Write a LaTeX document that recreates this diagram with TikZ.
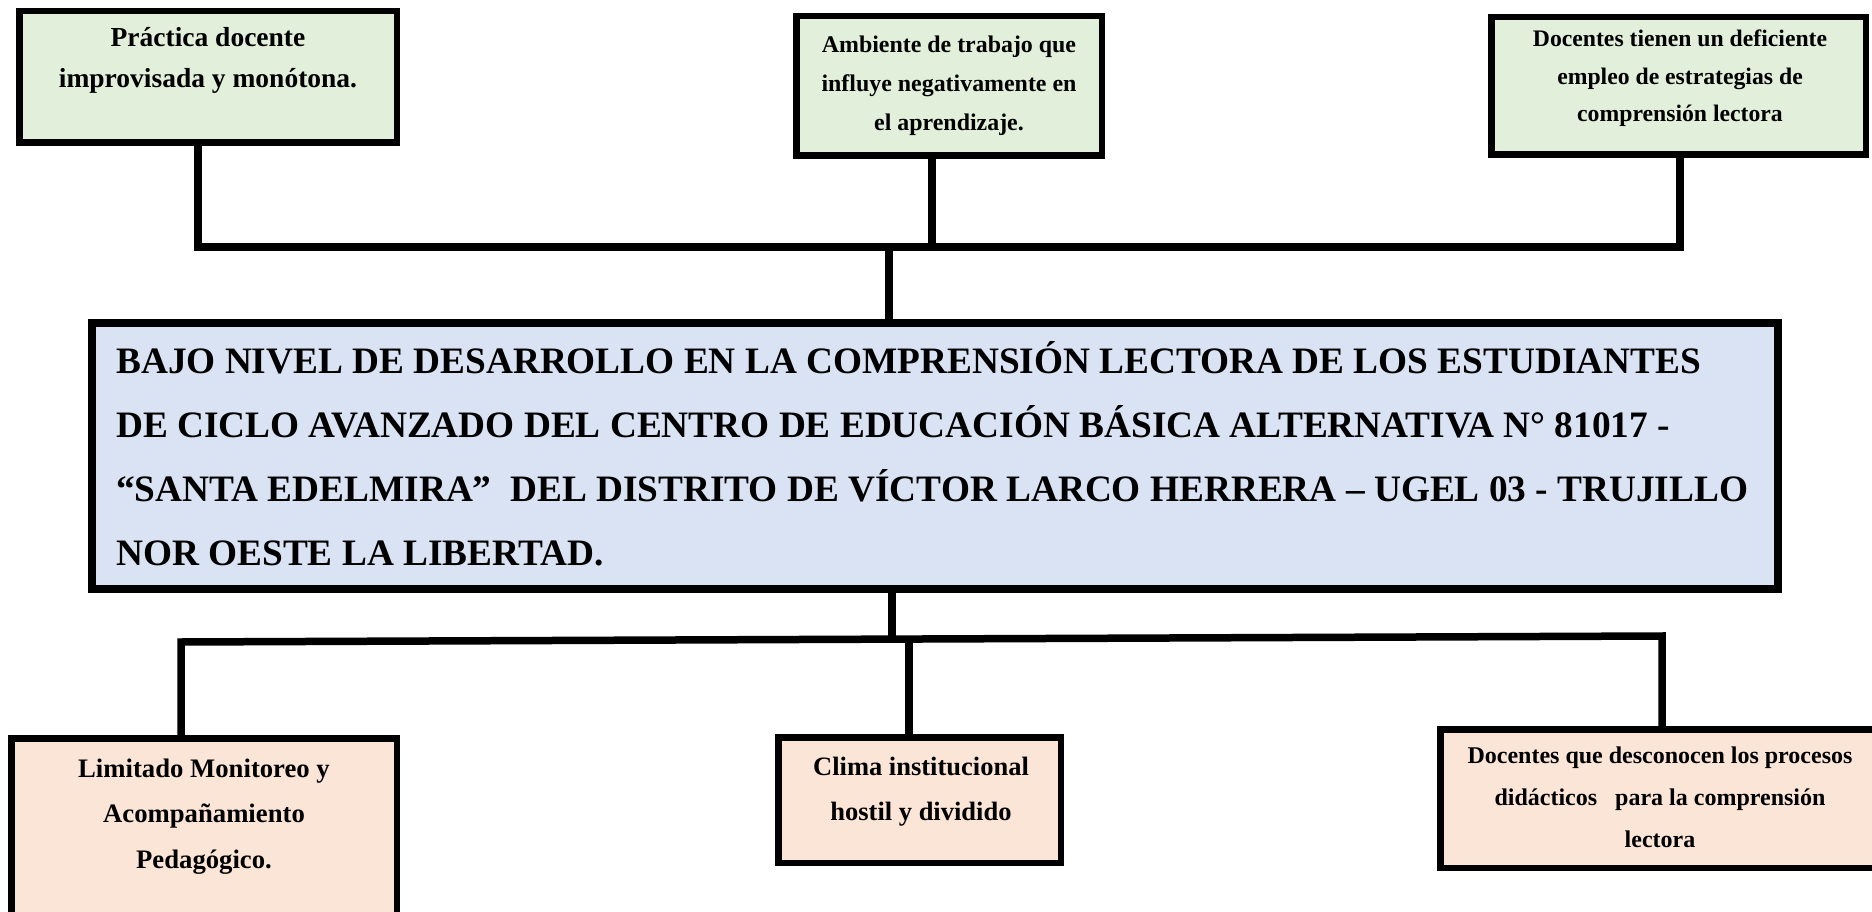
\documentclass[tikz,border=0pt]{standalone}
\usepackage{fontspec}
\setmainfont{Liberation Serif}
\definecolor{cgreen}{HTML}{E2EFDA}
\definecolor{cblue}{HTML}{DAE3F3}
\definecolor{cpeach}{HTML}{FBE5D6}
\tikzset{
  box/.style={draw=black, line width=6.5pt, inner sep=0pt, line join=miter},
  mainbox/.style={draw=black, line width=8pt, inner sep=0pt, fill=cblue},
  greenbox/.style={box, fill=cgreen},
  peachbox/.style={box, fill=cpeach},
  txt/.style={inner sep=0pt, align=center, anchor=base},
  conn/.style={draw=black, line width=7.5pt, line join=miter, line cap=butt}
}
\begin{document}
\begin{tikzpicture}[x=1pt,y=-1pt]
\useasboundingbox (0,0) rectangle (1872,912);
\clip (0,0) rectangle (1872,912);

% top boxes
\node[greenbox, minimum width=377.5pt, minimum height=131.5pt] (tl) at (208,77) {};
\node[greenbox, minimum width=305.5pt, minimum height=139.5pt] (tm) at (949,86) {};
\node[greenbox, minimum width=374.5pt, minimum height=137.5pt] (tr) at (1678.5,86) {};

\node[txt, font=\fontsize{27.5}{41}\selectfont\bfseries] (tlt) at (208,88) {Práctica docente\\improvisada y monótona.};
\node[txt, font=\fontsize{23.9}{39}\selectfont\bfseries] (tmt) at (949,131) {Ambiente de trabajo que\\influye negativamente en\\el aprendizaje.};
\node[txt, font=\fontsize{23.7}{37.5}\selectfont\bfseries] (trt) at (1680,122) {Docentes tienen un deficiente\\empleo de estrategias de\\comprensión lectora};

% main box
\node[mainbox, minimum width=1686pt, minimum height=266pt] (main) at (935,456) {};
\node[inner sep=0pt, align=left, anchor=base west, font=\fontsize{37.3}{64}\selectfont\bfseries] (maint) at (116,565)
{BAJO NIVEL DE DESARROLLO EN LA COMPRENSIÓN LECTORA DE LOS ESTUDIANTES\\
DE CICLO AVANZADO DEL CENTRO DE EDUCACIÓN BÁSICA ALTERNATIVA N° 81017 -\\
“SANTA EDELMIRA”\ \ DEL DISTRITO DE VÍCTOR LARCO HERRERA – UGEL 03 - TRUJILLO\\
NOR OESTE LA LIBERTAD.};

% bottom boxes
\node[peachbox, minimum width=385.5pt, minimum height=218.5pt] (bl) at (204,847.5) {};
\node[peachbox, minimum width=282.5pt, minimum height=125.5pt] (bm) at (919.5,800) {};
\node[peachbox, minimum width=436.5pt, minimum height=138.5pt] (br) at (1658.5,798.5) {};

\node[txt, font=\fontsize{26.7}{45.5}\selectfont\bfseries] (blt) at (204,868) {Limitado Monitoreo y\\Acompañamiento\\Pedagógico.};
\node[txt, font=\fontsize{26.5}{45}\selectfont\bfseries] (bmt) at (921,820) {Clima institucional\\hostil y dividido};
\node[txt, font=\fontsize{24}{42}\selectfont\bfseries] (brt) at (1660,847) {Docentes que desconocen los procesos\\didácticos\ \ \ para la comprensión\\lectora};

% top connectors
\coordinate (busL) at (198,247);
\coordinate (busR) at (1680,247);
\coordinate (busM) at (932,247);
\coordinate (busC) at (889,247);
\draw[conn] (tl.south -| busL) -- (busL) -- (busR) -- (tr.south -| busR);
\draw[conn] (tm.south -| busM) -- (busM);
\draw[conn] (busC) -- (main.north -| busC);

% bottom connectors
\coordinate (bj) at (892,639);
\coordinate (bbL) at (181,642);
\coordinate (bbR) at (1662,636);
\coordinate (bbM) at (909,639);
\draw[conn] (main.south -| bj) -- (bj);
\draw[conn] (bl.north -| bbL) -- (bbL) -- (bbR) -- (br.north -| bbR);
\draw[conn] (bbM) -- (bm.north -| bbM);
\end{tikzpicture}
\end{document}
